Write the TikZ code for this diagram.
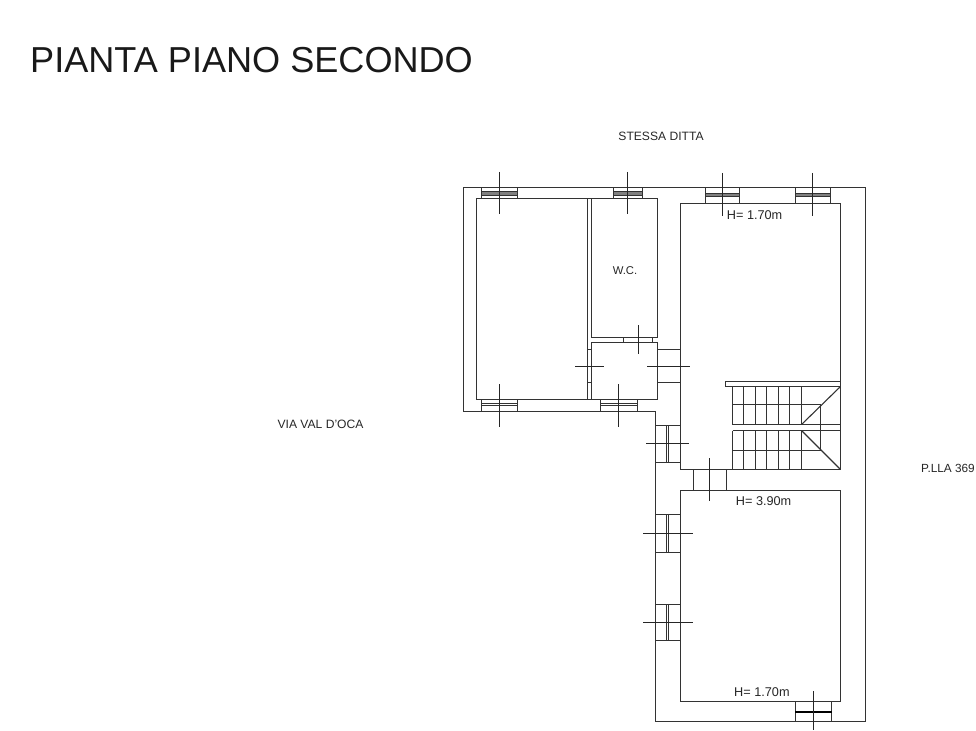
\documentclass[tikz,border=0pt]{standalone}
\usepackage{fontspec}
\setmainfont{Liberation Sans}
\tikzset{
	wall/.style={line width=1.1pt, draw=black!80},
	cross/.style={line width=1.1pt, draw=black!85},
	glass/.style={line width=1.1pt, draw=black!80, fill=black!50},
	glassdark/.style={line width=1.1pt, draw=black, fill=black},
	label/.style={inner sep=0pt, font=\fontsize{12.1}{14}\selectfont, text=black!85},
}
\begin{document}
\begin{tikzpicture}[x=1pt, y=-1pt]
	\useasboundingbox (0,0) rectangle (976,730);

	\node[anchor=west, inner sep=0pt, font=\fontsize{36.1}{40}\selectfont, text=black!90] (title) at (30,60.5) {PIANTA PIANO SECONDO};
	\node[label] (ditta) at (661,136) {STESSA DITTA};
	\node[label] (via) at (320.5,424) {VIA VAL D'OCA};
	\node[label, font=\fontsize{11.8}{14}\selectfont, anchor=west] (plla) at (921,468) {P.LLA 369};
	\node[label, font=\fontsize{11.3}{14}\selectfont] (wc) at (625,271) {W.C.};
	\node[label, font=\fontsize{12.7}{14}\selectfont, anchor=west] (hnord) at (726.7,215) {H= 1.70m};
	\node[label, font=\fontsize{12.7}{14}\selectfont, anchor=west] (hmid) at (735.7,501) {H= 3.90m};
	\node[label, font=\fontsize{12.7}{14}\selectfont, anchor=west] (hsud) at (734,692) {H= 1.70m};

	\draw[wall] (463.5,187.5) -- (865.5,187.5) -- (865.5,721.5) -- (655.5,721.5) -- (655.5,411.5) -- (463.5,411.5) -- cycle;%muro esterno
	\draw[wall] (476.5,198.5) rectangle (587.5,399.5);%stanza sinistra
	\draw[wall] (591.5,198.5) rectangle (657.5,337.5);%W.C.
	\draw[wall] (591.5,342.5) rectangle (657.5,399.5);%disimpegno
	\draw[wall] (587.5,198.5) -- (591.5,198.5);
	\draw[wall] (587.5,399.5) -- (591.5,399.5);
	\draw[wall] (680.5,469.5) -- (680.5,203.5) -- (840.5,203.5) -- (840.5,469.5) -- cycle;%stanza nord
	\draw[wall] (680.5,490.5) rectangle (840.5,701.5);%stanza sud

	%porte
	\draw[wall] (587.5,349.5) -- (591.5,349.5);
	\draw[wall] (587.5,382.5) -- (591.5,382.5);
	\draw[cross] (575,366.5) -- (604,366.5);
	\draw[wall] (623.5,337.5) -- (623.5,342.5);
	\draw[wall] (652.5,337.5) -- (652.5,342.5);
	\draw[cross] (638.5,325) -- (638.5,354);
	\draw[wall] (657.5,349.5) -- (680.5,349.5);
	\draw[wall] (657.5,382.5) -- (680.5,382.5);
	\draw[cross] (647,366.5) -- (690,366.5);
	\draw[wall] (693.5,469.5) -- (693.5,490.5);
	\draw[wall] (726.5,469.5) -- (726.5,490.5);
	\draw[cross] (709.5,458) -- (709.5,501);

	%finestre nord
	\foreach \xa/\xb/\xc in {481.5/517.5/499.5, 613.5/642.5/627.5} {
		\draw[wall] (\xa,187.5) rectangle (\xb,198.5);
		\draw[glass] (\xa,191.5) rectangle (\xb,195.5);
		\draw[cross] (\xc,172) -- (\xc,214);
	}
	\foreach \xa/\xb/\xc in {705.5/739.5/722.5, 795.5/830.5/812.5} {
		\draw[wall] (\xa,187.5) rectangle (\xb,203.5);
		\draw[glass] (\xa,193.5) rectangle (\xb,196.5);
		\draw[cross] (\xc,173) -- (\xc,216);
	}

	%finestre sud
	\foreach \xa/\xb/\xc in {481.5/517.5/499.5, 600.5/637.5/618.5} {
		\draw[wall] (\xa,399.5) rectangle (\xb,411.5);
		\draw[wall] (\xa,403.5) rectangle (\xb,405.5);
		\draw[cross] (\xc,384) -- (\xc,427);
	}
	\draw[wall] (795.5,701.5) rectangle (831.5,721.5);
	\draw[glassdark] (795.5,711.5) rectangle (831.5,712.5);
	\draw[cross] (813.5,691) -- (813.5,730);

	%finestre ovest
	\foreach \ya/\yb/\yc/\xl/\xr in {425.5/462.5/443.5/646/689, 514.5/552.5/533.5/643/693, 604.5/640.5/622.5/643/693} {
		\draw[wall] (655.5,\ya) rectangle (680.5,\yb);
		\draw[wall] (666.5,\ya) rectangle (668.5,\yb);
		\draw[cross] (\xl,\yc) -- (\xr,\yc);
	}

	%scala
	\draw[wall] (725.5,381.5) rectangle (840.5,386.5);
	\foreach \xs in {732.5,743.5,755.5,766.5,778.5,789.5,801.5} {
		\draw[wall] (\xs,386.5) -- (\xs,424.5);
		\draw[wall] (\xs,430.5) -- (\xs,469.5);
	}
	\draw[wall] (732.5,404.5) -- (820.5,404.5);
	\draw[wall] (732.5,450.5) -- (820.5,450.5);
	\draw[wall] (732.5,424.5) -- (840.5,424.5);
	\draw[wall] (732.5,430.5) -- (840.5,430.5);
	\draw[wall] (820.5,404.5) -- (820.5,450.5);
	\draw[wall] (801.5,424.5) -- (840.5,386.5);
	\draw[wall] (801.5,430.5) -- (840.5,469.5);
\end{tikzpicture}
\end{document}
